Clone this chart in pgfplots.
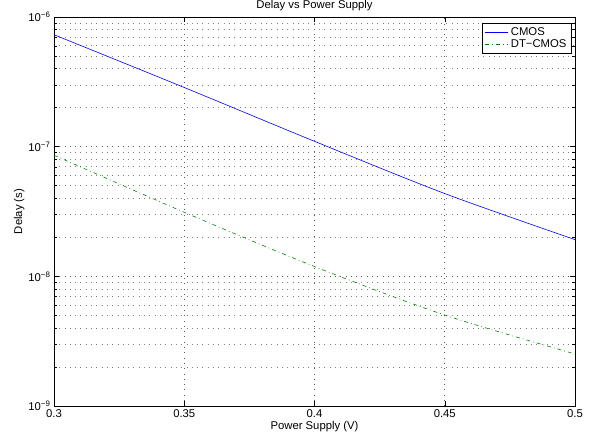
\documentclass[border=0pt]{standalone}
\usepackage{pgfplots}
\pgfplotsset{compat=1.18}
\usepackage{fontspec}
\setmainfont{Liberation Sans}
\definecolor{mblue}{rgb}{0,0,1}
\definecolor{mgreen}{rgb}{0,0.5,0}
\begin{document}
\begin{tikzpicture}
\path[use as bounding box] (-54bp,-36bp) rectangle (538bp,406bp);
\begin{axis}[
  at={(0,0)}, anchor=south west,
  scale only axis, width=521bp, height=389bp,
  ymode=log, log basis y=10,
  xmin=0.3, xmax=0.5, ymin=1e-9, ymax=1e-6,
  xtick={0.3,0.35,0.4,0.45,0.5},
  xticklabels={0.3,0.35,0.4,0.45,0.5},
  ytick={1e-9,1e-8,1e-7,1e-6},
  yticklabels={10\textsuperscript{−9},10\textsuperscript{−8},10\textsuperscript{−7},10\textsuperscript{−6}},
  minor xtick={},
  minor ytick={2e-9,3e-9,4e-9,5e-9,6e-9,7e-9,8e-9,9e-9,
               2e-8,3e-8,4e-8,5e-8,6e-8,7e-8,8e-8,9e-8,
               2e-7,3e-7,4e-7,5e-7,6e-7,7e-7,8e-7,9e-7},
  tick align=inside, tick pos=both,
  major tick length=5bp, minor tick length=3bp,
  axis line style={black, line width=0.8pt},
  every tick/.style={black, line width=0.5pt},
  grid=both,
  major grid style={black!65, line width=0.6pt, dash pattern=on 0.7bp off 4.6bp},
  minor grid style={black!50, line width=0.6pt, dash pattern=on 0.7bp off 4.6bp},
  xminorgrids=false,
  tick label style={font=\fontsize{11.3bp}{13bp}\selectfont},
  xticklabel style={yshift=-0.5bp},
  label style={font=\fontsize{11.3bp}{13bp}\selectfont},
  xlabel={Power Supply (V)},
  ylabel={Delay (s)},
  xlabel style={yshift=4bp},
  ylabel style={yshift=-3bp},
  title={Delay vs Power Supply},
  title style={font=\fontsize{11.3bp}{13bp}\selectfont, at={(0.5,1)}, anchor=south, yshift=-3bp},
  legend style={at={(axis description cs:0.994,0.985)}, anchor=north east,
    font=\fontsize{11.3bp}{13bp}\selectfont, line width=0.8pt,
    inner xsep=3bp, inner ysep=2.5bp, row sep=-1.5bp, fill=white},
  legend cell align=left,
  legend image code/.code={\draw[#1, line width=0.9pt] (0bp,0bp) -- (23bp,0bp);},
]
\addplot[color=mblue, line width=0.6pt, smooth] coordinates {
  (0.3,7.3e-7) (0.35,2.86e-7) (0.4,1.1e-7) (0.45,4.35e-8) (0.5,1.92e-8)
};
\addlegendentry{CMOS}
\addplot[color=mgreen, line width=0.6pt, smooth, dash pattern=on 4bp off 3bp on 0.8bp off 3bp] coordinates {
  (0.3,8.6e-8) (0.35,3.12e-8) (0.4,1.19e-8) (0.45,5.03e-9) (0.5,2.52e-9)
};
\addlegendentry{DT−CMOS}
\end{axis}
\end{tikzpicture}
\end{document}
